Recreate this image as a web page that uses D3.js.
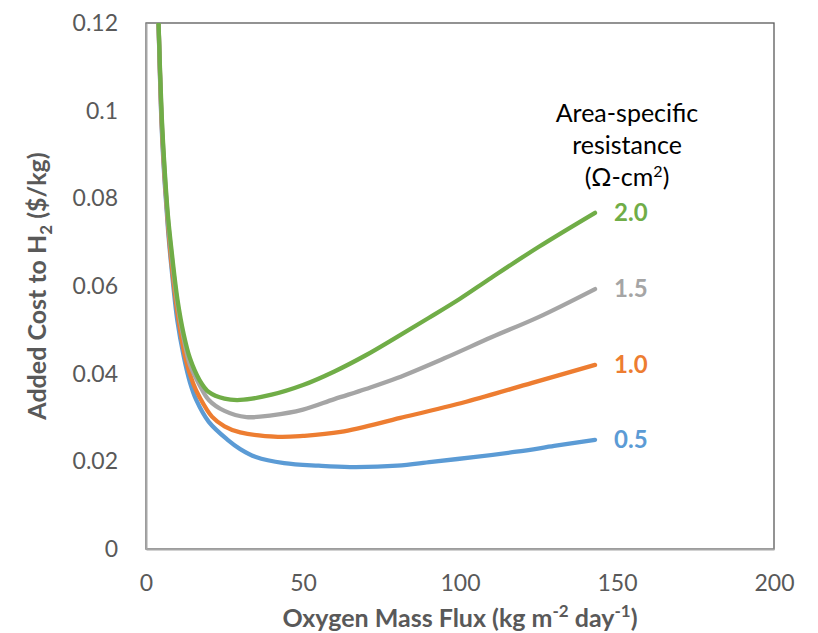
<!DOCTYPE html>
<html>
<head>
<meta charset="utf-8">
<script src="https://cdn.jsdelivr.net/npm/d3@7"></script>
<style>
  body { margin: 0; background: #fff; }
  svg text { font-family: Lato, "Open Sans", sans-serif; }
</style>
</head>
<body>
<div id="chart"></div>
<script>
// area-specific resistance series (x = oxygen mass flux, y = added cost $/kg)
const resistances = ["0.5", "1.0", "1.5", "2.0"];
const colors = ["#5B9BD5", "#ED7D31", "#A5A5A5", "#70AD47"];

const flux05 = [4, 5, 6, 7, 8, 10, 12, 14, 16, 20, 26, 30, 35, 44, 55, 65, 80, 91, 105, 118, 130, 143];
const cost05 = [0.12, 0.096, 0.083, 0.073, 0.065, 0.052, 0.044, 0.038, 0.034, 0.029, 0.0249, 0.0228, 0.021, 0.0196, 0.019, 0.0187, 0.019, 0.0199, 0.021, 0.0222, 0.0235, 0.0249];

const flux10 = [4, 5, 6, 7, 8, 10, 12.7, 15, 17, 21, 25, 30, 42, 50, 62, 81, 102, 123, 143];
const cost10 = [0.12, 0.097, 0.084, 0.074, 0.066, 0.054, 0.0431, 0.0378, 0.0347, 0.0302, 0.0280, 0.0266, 0.0256, 0.0258, 0.0267, 0.0299, 0.0336, 0.0379, 0.042];

const flux15 = [4, 5, 6, 7, 8, 10, 12, 14, 17, 20, 25, 32, 40, 50, 60, 70, 80, 95, 110, 125, 143];
const cost15 = [0.12, 0.098, 0.085, 0.075, 0.068, 0.056, 0.048, 0.042, 0.0375, 0.034, 0.0315, 0.0301, 0.0305, 0.0318, 0.0342, 0.0365, 0.039, 0.0435, 0.0483, 0.0529, 0.0593];

const flux20 = [4, 5, 6, 7, 8, 10, 12, 14, 17, 20, 25, 30, 40, 50, 60, 70, 80, 90, 100, 110, 125, 143];
const cost20 = [0.12, 0.099, 0.086, 0.076, 0.069, 0.057, 0.049, 0.0435, 0.0386, 0.0358, 0.0343, 0.034, 0.0352, 0.0374, 0.0405, 0.0442, 0.0484, 0.0527, 0.0571, 0.0619, 0.0689, 0.0767];

const xTicks = [0, 50, 100, 150, 200];
const yTicks = [0, 0.02, 0.04, 0.06, 0.08, 0.1, 0.12];

const fluxes = [flux05, flux10, flux15, flux20];
const costs = [cost05, cost10, cost15, cost20];

const width = 818, height = 633;
const margin = {top: 23, right: 44, bottom: 84, left: 146};

const svg = d3.select("#chart").append("svg")
    .attr("width", width)
    .attr("height", height);

const x = d3.scaleLinear().domain([0, 200]).range([margin.left, width - margin.right]);
const y = d3.scaleLinear().domain([0, 0.12]).range([height - margin.bottom, margin.top]);

// outer plot border (top/right darker)
svg.append("rect")
    .attr("x", x(0)).attr("y", y(0.12))
    .attr("width", x(200) - x(0)).attr("height", y(0) - y(0.12))
    .attr("fill", "none").attr("stroke", "#595959").attr("stroke-width", 1.3);

svg.append("defs").append("clipPath").attr("id", "clip")
  .append("rect")
    .attr("x", x(0)).attr("y", y(0.12))
    .attr("width", x(200) - x(0)).attr("height", y(0) - y(0.12));

// axes
const xAxis = svg.append("g")
    .attr("transform", `translate(0,${y(0)})`)
    .call(d3.axisBottom(x).tickValues(xTicks).tickSize(0).tickPadding(26).tickFormat(d3.format("d")));
const yAxis = svg.append("g")
    .attr("transform", `translate(${x(0)},0)`)
    .call(d3.axisLeft(y).tickValues(yTicks).tickSize(0).tickPadding(28).tickFormat(d => d === 0 ? "0" : String(d)));

[xAxis, yAxis].forEach(g => {
    g.select(".domain").attr("stroke", "#A6A6A6").attr("stroke-width", 2);
    g.selectAll("text").attr("fill", "#595959").style("font-size", "23px");
});

// series lines
const line = d3.line()
    .x(d => x(d[0]))
    .y(d => y(d[1]))
    .curve(d3.curveCatmullRom.alpha(0.5));

const plot = svg.append("g").attr("clip-path", "url(#clip)");
[0, 1, 2, 3].forEach(i => {
    const pts = fluxes[i].map((f, j) => [f, costs[i][j]]);
    plot.append("path")
        .datum(pts)
        .attr("d", line)
        .attr("fill", "none")
        .attr("stroke", colors[i])
        .attr("stroke-width", 4.3)
        .attr("stroke-linecap", "round");
});

// end labels
resistances.forEach((r, i) => {
    const f = fluxes[i], c = costs[i];
    svg.append("text")
        .attr("x", x(f[f.length - 1]) + 19)
        .attr("y", y(c[c.length - 1]))
        .attr("dy", "0.35em")
        .attr("fill", colors[i])
        .style("font-size", "24px")
        .style("font-weight", "bold")
        .text(r);
});

// legend title
const title = svg.append("text")
    .attr("x", 627)
    .attr("text-anchor", "middle")
    .attr("fill", "#000")
    .style("font-size", "25px");
title.append("tspan").attr("x", 627).attr("y", 122).text("Area-specific");
title.append("tspan").attr("x", 627).attr("y", 154).text("resistance");
title.append("tspan").attr("x", 627).attr("y", 186).text("(Ω-cm");
title.append("tspan").attr("dy", -9).style("font-size", "16px").text("2");
title.append("tspan").attr("dy", 9).text(")");

// axis titles
const yTitle = svg.append("text")
    .attr("transform", `translate(46,${(y(0) + y(0.12)) / 2}) rotate(-90)`)
    .attr("text-anchor", "middle")
    .attr("fill", "#595959")
    .style("font-size", "25px")
    .style("font-weight", "bold");
yTitle.append("tspan").text("Added Cost to H");
yTitle.append("tspan").attr("dy", 6).style("font-size", "17px").text("2");
yTitle.append("tspan").attr("dy", -6).text(" ($/kg)");

const xTitle = svg.append("text")
    .attr("x", 460)
    .attr("y", 627)
    .attr("text-anchor", "middle")
    .attr("fill", "#595959")
    .style("font-size", "25px")
    .style("font-weight", "bold");
xTitle.append("tspan").text("Oxygen Mass Flux (kg m");
xTitle.append("tspan").attr("dy", -10).style("font-size", "17px").text("-2");
xTitle.append("tspan").attr("dy", 10).text(" day");
xTitle.append("tspan").attr("dy", -10).style("font-size", "17px").text("-1");
xTitle.append("tspan").attr("dy", 10).text(")");
</script>
</body>
</html>
